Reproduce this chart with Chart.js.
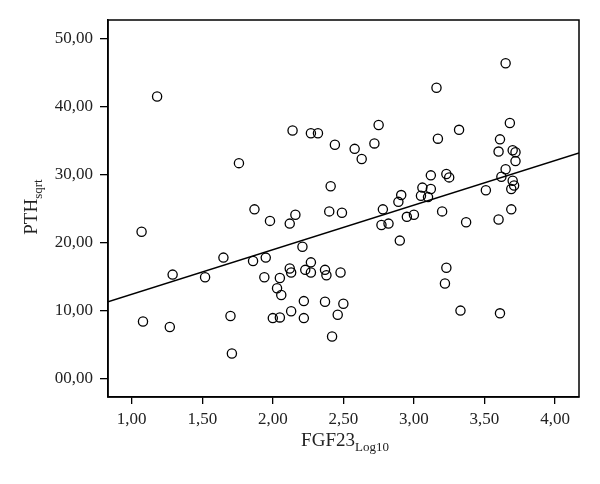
<!DOCTYPE html>
<html>
<head>
<meta charset="utf-8">
<script src="https://cdn.jsdelivr.net/npm/chart.js@4/dist/chart.umd.min.js"></script>
<style>
  html, body { margin: 0; padding: 0; background: #fff; }
  #wrap { width: 600px; height: 484px; }
</style>
</head>
<body>
<div id="wrap"><canvas id="scatterChart" width="600" height="484"></canvas></div>
<script>
// FGF23 (log10) vs PTH (sqrt)
const fgfLog = [
  1.18, 2.14, 2.27, 2.32, 2.44, 1.76, 2.41, 1.87, 1.98, 2.16, 2.40, 2.49,
  3.65, 3.16, 2.75, 3.68, 3.32, 2.58, 2.63, 2.72, 3.17, 3.61, 3.60, 3.70,
  3.72, 3.72, 3.65, 3.62, 3.70, 3.71, 3.69, 3.51, 3.69, 3.12, 3.23, 3.25,
  3.06, 3.12, 3.05, 3.10, 2.91, 2.89, 2.78, 3.20, 2.95, 3.00, 3.37, 3.60,
  2.77, 2.82, 2.90, 3.23, 3.22, 3.33, 3.61, 2.48, 2.50, 2.46, 2.42, 2.12,
  1.07, 2.21, 1.65, 1.86, 1.95, 1.29, 1.52, 1.94, 2.05, 2.12, 2.13, 2.23,
  2.27, 2.27, 2.37, 2.38, 2.03, 2.06, 2.22, 2.37, 2.13, 2.00, 2.05, 2.22,
  1.70, 1.08, 1.27, 1.71
];
const pthSqrt = [
  41.5, 36.5, 36.1, 36.1, 34.4, 31.7, 28.3, 24.9, 23.2, 24.1, 24.6, 24.4,
  46.4, 42.8, 37.3, 37.6, 36.6, 33.8, 32.3, 34.6, 35.3, 35.2, 33.4, 33.6,
  33.3, 32.0, 30.8, 29.7, 29.1, 28.4, 27.9, 27.7, 24.9, 29.9, 30.1, 29.6,
  28.1, 27.9, 26.9, 26.7, 27.0, 26.0, 24.9, 24.6, 23.8, 24.1, 23.0, 23.4,
  22.6, 22.8, 20.3, 16.3, 14.0, 10.0, 9.6, 15.6, 11.0, 9.4, 6.2, 22.8,
  21.6, 19.4, 17.8, 17.3, 17.8, 15.3, 14.9, 14.9, 14.8, 16.2, 15.6, 16.0,
  17.1, 15.6, 16.0, 15.2, 13.3, 12.3, 11.4, 11.3, 9.9, 8.9, 9.0, 8.9,
  9.2, 8.4, 7.6, 3.7
];
// fitted line, ends at the plot edges
const fitX = [0.832, 4.17];
const fitY = [11.3, 33.2];

const xTicks = [1.0, 1.5, 2.0, 2.5, 3.0, 3.5, 4.0];
const yTicks = [0, 10, 20, 30, 40, 50];

const serif = '"Liberation Serif", "DejaVu Serif", serif';

// axis titles with subscripts + frame around the plot
const titlesPlugin = {
  id: 'titles',
  afterDraw(chart) {
    const ctx = chart.ctx;
    const a = chart.chartArea;
    ctx.save();
    ctx.strokeStyle = '#000';
    ctx.lineWidth = 1.5;
    ctx.strokeRect(a.left, a.top, a.right - a.left, a.bottom - a.top);

    ctx.fillStyle = '#222';
    ctx.textBaseline = 'alphabetic';
    function drawSub(main, sub, cx, cy) {
      ctx.font = '19px ' + serif;
      const w1 = ctx.measureText(main).width;
      ctx.font = '13px ' + serif;
      const w2 = ctx.measureText(sub).width;
      const start = cx - (w1 + w2) / 2;
      ctx.font = '19px ' + serif;
      ctx.textAlign = 'left';
      ctx.fillText(main, start, cy);
      ctx.font = '13px ' + serif;
      ctx.fillText(sub, start + w1, cy + 5);
    }
    drawSub('FGF23', 'Log10', 345, 446);
    ctx.translate(37, 207);
    ctx.rotate(-Math.PI / 2);
    drawSub('PTH', 'sqrt', 0, 0);
    ctx.restore();
  }
};

const ctx = document.getElementById('scatterChart').getContext('2d');
new Chart(ctx, {
  type: 'scatter',
  data: {
    datasets: [{
      label: 'PTH',
      data: fgfLog.map((x, i) => ({ x: x, y: pthSqrt[i] })),
      pointRadius: 4.6,
      pointBorderWidth: 1.3,
      pointBorderColor: '#000',
      pointBackgroundColor: 'rgba(255,255,255,0)',
      showLine: false
    }, {
      label: 'Fit',
      type: 'line',
      data: fitX.map((x, i) => ({ x: x, y: fitY[i] })),
      borderColor: '#000',
      borderWidth: 1.4,
      pointRadius: 0,
      fill: false
    }]
  },
  options: {
    responsive: false,
    animation: false,
    devicePixelRatio: 1,
    layout: { padding: { top: 20, right: 21, left: 0, bottom: 0 } },
    plugins: { legend: { display: false }, tooltip: { enabled: false } },
    scales: {
      x: {
        type: 'linear',
        min: 0.832,
        max: 4.17,
        afterBuildTicks: s => { s.ticks = xTicks.map(v => ({ value: v })); },
        afterFit: s => { s.height = 87; },
        grid: { drawOnChartArea: false, drawTicks: true, tickLength: 7, color: '#000', lineWidth: 1.3 },
        border: { display: true, color: '#000', width: 1.5 },
        ticks: {
          color: '#222',
          font: { family: serif, size: 17 },
          padding: 5,
          maxRotation: 0,
          callback: v => v.toFixed(2).replace('.', ',')
        }
      },
      y: {
        type: 'linear',
        min: -2.71,
        max: 52.76,
        afterBuildTicks: s => { s.ticks = yTicks.map(v => ({ value: v })); },
        afterFit: s => { s.width = 108; },
        grid: { drawOnChartArea: false, drawTicks: true, tickLength: 8, color: '#000', lineWidth: 1.3 },
        border: { display: true, color: '#000', width: 1.5 },
        ticks: {
          color: '#222',
          font: { family: serif, size: 17 },
          padding: 7,
          callback: v => v.toFixed(2).replace('.', ',').padStart(5, '0')
        }
      }
    }
  },
  plugins: [titlesPlugin]
});
</script>
</body>
</html>
